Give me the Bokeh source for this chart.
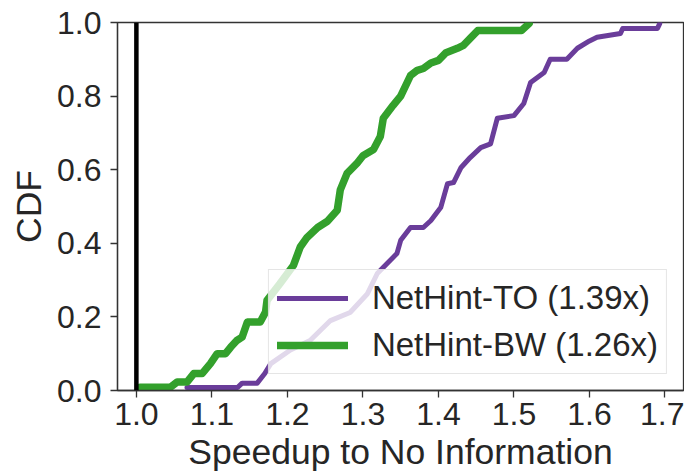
from bokeh.plotting import figure
from bokeh.models import Range1d, FixedTicker, NumeralTickFormatter, Span, Legend, LegendItem
from bokeh.embed import file_html
from bokeh.resources import INLINE

# NetHint-TO (purple) CDF points
to_speedup = [1.067, 1.134, 1.14, 1.16, 1.17, 1.178, 1.204, 1.23, 1.257, 1.283, 1.306, 1.319,
              1.332, 1.345, 1.35, 1.363, 1.38, 1.39, 1.403, 1.412, 1.42, 1.43, 1.442, 1.456,
              1.469, 1.478, 1.50, 1.513, 1.522, 1.54, 1.548, 1.57, 1.584, 1.60, 1.61, 1.641,
              1.644, 1.69, 1.693]
to_cdf = [0.008, 0.008, 0.02, 0.02, 0.046, 0.073, 0.11, 0.136, 0.19, 0.212, 0.263, 0.318,
          0.345, 0.372, 0.408, 0.443, 0.443, 0.462, 0.497, 0.562, 0.565, 0.606, 0.633, 0.66,
          0.67, 0.74, 0.747, 0.78, 0.837, 0.864, 0.90, 0.90, 0.93, 0.95, 0.96, 0.97,
          0.984, 0.984, 0.997]

# NetHint-BW (green) CDF points
bw_speedup = [1.005, 1.045, 1.054, 1.067, 1.076, 1.087, 1.098, 1.107, 1.118, 1.125, 1.133, 1.14,
              1.147, 1.164, 1.171, 1.173, 1.19, 1.208, 1.217, 1.226, 1.24, 1.253, 1.266, 1.27,
              1.279, 1.292, 1.30, 1.314, 1.323, 1.327, 1.34, 1.35, 1.363, 1.372, 1.38, 1.39,
              1.40, 1.41, 1.425, 1.433, 1.442, 1.452, 1.51, 1.52]
bw_cdf = [0.009, 0.009, 0.023, 0.023, 0.046, 0.046, 0.073, 0.10, 0.10, 0.118, 0.136, 0.145,
          0.186, 0.186, 0.213, 0.245, 0.29, 0.34, 0.39, 0.416, 0.443, 0.46, 0.49, 0.545,
          0.59, 0.617, 0.638, 0.655, 0.69, 0.74, 0.775, 0.80, 0.856, 0.87, 0.875, 0.89,
          0.897, 0.918, 0.93, 0.938, 0.957, 0.978, 0.978, 0.997]

x_ticks = [1.0, 1.1, 1.2, 1.3, 1.4, 1.5, 1.6, 1.7]
y_ticks = [0.0, 0.2, 0.4, 0.6, 0.8, 1.0]
labels = ["NetHint-TO (1.39x)", "NetHint-BW (1.26x)"]

FONT = "Liberation Sans"
TXT = "#262626"

p = figure(frame_width=566, frame_height=368, output_backend="svg", toolbar_location=None,
           x_range=Range1d(0.975, 1.7245), y_range=Range1d(0, 1),
           min_border_left=117, min_border_right=1, min_border_top=22, min_border_bottom=70)
p.grid.visible = False
p.background_fill_color = "white"
p.outline_line_color = "#333333"
p.outline_line_width = 1.3

for ax in (p.xaxis[0], p.yaxis[0]):
    ax.axis_line_color = "#333333"
    ax.axis_line_width = 1.3
    ax.major_tick_line_color = "#333333"
    ax.major_tick_line_width = 1.3
    ax.major_tick_out = 7
    ax.major_tick_in = 0
    ax.minor_tick_line_color = None
    ax.major_label_text_font = FONT
    ax.major_label_text_font_size = "32px"
    ax.major_label_text_color = TXT
    ax.axis_label_text_font = FONT
    ax.axis_label_text_font_size = "35.5px"
    ax.axis_label_text_font_style = "normal"
    ax.axis_label_text_color = TXT

p.xaxis.ticker = FixedTicker(ticks=x_ticks)
p.yaxis.ticker = FixedTicker(ticks=y_ticks)
p.xaxis.formatter = NumeralTickFormatter(format="0.0")
p.yaxis.formatter = NumeralTickFormatter(format="0.0")
p.xaxis.axis_label = "Speedup to No Information"
p.yaxis.axis_label = "CDF"
p.xaxis.major_label_standoff = 5
p.yaxis.major_label_standoff = 9
p.xaxis.axis_label_standoff = 4
p.yaxis.axis_label_standoff = 5

p.add_layout(Span(location=1.0, dimension="height", line_color="black", line_width=4.5))

r_to = p.line(to_speedup, to_cdf, line_color="#6a3d9a", line_width=5,
              line_join="round", line_cap="round")
r_bw = p.line(bw_speedup, bw_cdf, line_color="#33a02c", line_width=7.5,
              line_join="round", line_cap="round")

legend = Legend(items=[LegendItem(label=labels[0], renderers=[r_to]),
                       LegendItem(label=labels[1], renderers=[r_bw])],
                location="bottom_right")
legend.label_text_font = FONT
legend.label_text_font_size = "33px"
legend.label_text_color = TXT
legend.glyph_width = 71
legend.glyph_height = 40
legend.label_height = 40
legend.spacing = 7
legend.padding = 8
legend.margin = 16
legend.label_standoff = 24
legend.border_line_color = "#cccccc"
legend.border_line_width = 1.3
legend.background_fill_color = "white"
legend.background_fill_alpha = 0.8
p.add_layout(legend)

open("out.html", "w").write(file_html(p, INLINE))
